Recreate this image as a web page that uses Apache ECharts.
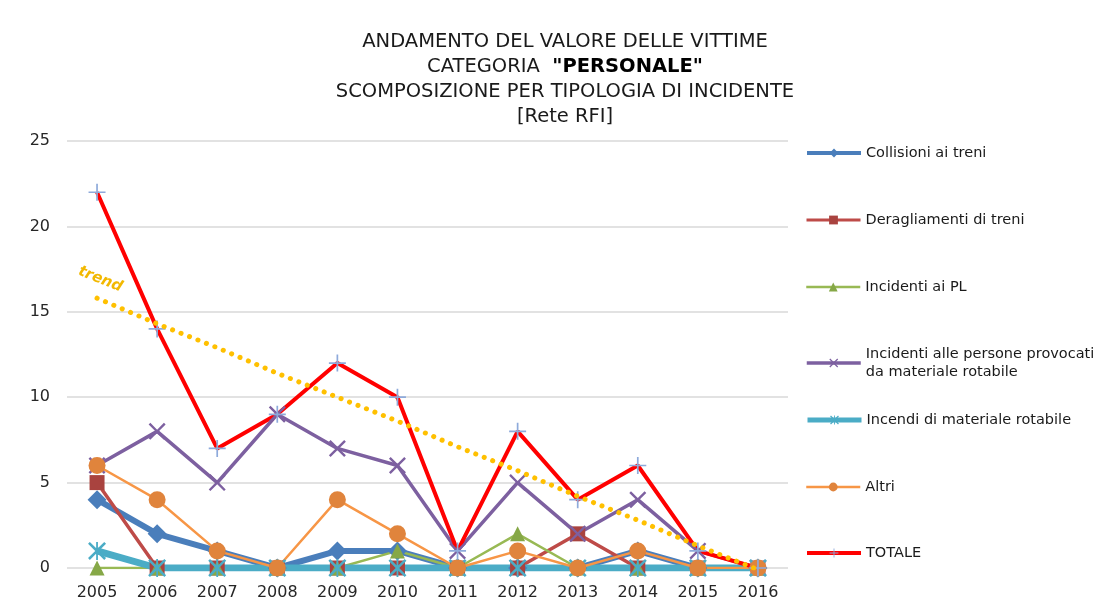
<!DOCTYPE html>
<html>
<head>
<meta charset="utf-8">
<script src="https://cdn.jsdelivr.net/npm/echarts@6/dist/echarts.min.js"></script>
<style>
  html, body { margin: 0; padding: 0; background: #fff; }
  #chart { width: 1114px; height: 610px; }
</style>
</head>
<body>
<div id="chart"></div>
<script>
const years = ["2005", "2006", "2007", "2008", "2009", "2010", "2011", "2012", "2013", "2014", "2015", "2016"];
const collisioni = [4, 2, 1, 0, 1, 1, 0, 0, 0, 1, 0, 0];
const deragliamenti = [5, 0, 0, 0, 0, 0, 0, 0, 2, 0, 0, 0];
const incidentiPL = [0, 0, 0, 0, 0, 1, 0, 2, 0, 0, 0, 0];
const incidentiPersone = [6, 8, 5, 9, 7, 6, 1, 5, 2, 4, 1, 0];
const incendi = [1, 0, 0, 0, 0, 0, 0, 0, 0, 0, 0, 0];
const altri = [6, 4, 1, 0, 4, 2, 0, 1, 0, 1, 0, 0];
const totale = [22, 14, 7, 9, 12, 10, 1, 8, 4, 6, 1, 0];
// trend line
const trend = [15.8, 14.3, 12.9, 11.4, 10.0, 8.6, 7.1, 5.7, 4.2, 2.8, 1.3, -0.1];
const yTicks = [0, 5, 10, 15, 20, 25];

const names = [
  "Collisioni ai treni",
  "Deragliamenti di treni",
  "Incidenti ai PL",
  "Incidenti alle persone provocati\nda materiale rotabile",
  "Incendi di materiale rotabile",
  "Altri",
  "TOTALE",
];

// symbols
const xPath = "path://M0 2L2 0L10 8L18 0L20 2L12 10L20 18L18 20L10 12L2 20L0 18L8 10Z";
const starPath = "path://M0 2L2 0L10 8L18 0L20 2L12 10L20 18L18 20L10 12L2 20L0 18L8 10Z M9 0L11 0L11 20L9 20Z";
const plusPath = "path://M9 0L11 0L11 9L20 9L20 11L11 11L11 20L9 20L9 11L0 11L0 9L9 9Z";

const font = "DejaVu Sans";
const chart = echarts.init(document.getElementById("chart"));

const legendTops = [144, 211, 278, 345, 411, 478, 544];
const legendWidths = [4, 3, 2.5, 3.5, 5, 2.5, 4];
const legends = names.map((n, i) => ({
  data: [n],
  left: 805,
  top: legendTops[i],
  padding: 0,
  itemWidth: 54,
  itemHeight: 11,
  lineStyle: { width: legendWidths[i] },
  textStyle: { fontFamily: font, fontSize: 14.5, color: "#1a1a1a", lineHeight: 18 },
}));

chart.setOption({
  animation: false,
  backgroundColor: "#fff",
  title: {
    left: 560,
    textAlign: "center",
    top: 24,
    text: 'ANDAMENTO DEL VALORE DELLE VITTIME\nCATEGORIA  {b|"PERSONALE"}\nSCOMPOSIZIONE PER TIPOLOGIA DI INCIDENTE\n[Rete RFI]',
    textStyle: {
      fontFamily: font,
      fontSize: 19.5,
      fontWeight: "normal",
      color: "#1a1a1a",
      lineHeight: 25,
      rich: {
        b: { fontFamily: font, fontSize: 19.5, fontWeight: "bold", color: "#000", lineHeight: 25 },
      },
    },
  },
  legend: legends,
  grid: { left: 67, right: 326, top: 141, bottom: 42 },
  xAxis: {
    type: "category",
    data: years,
    boundaryGap: true,
    axisLine: { show: false },
    axisTick: { show: false },
    axisLabel: { fontFamily: font, fontSize: 16, color: "#262626", margin: 17 },
  },
  yAxis: {
    type: "value",
    min: yTicks[0],
    max: yTicks[yTicks.length - 1],
    interval: 5,
    axisLine: { show: false },
    axisTick: { show: false },
    axisLabel: { fontFamily: font, fontSize: 16, color: "#262626", margin: 17 },
    splitLine: { lineStyle: { color: "#d9d9d9", width: 1.5 } },
  },
  series: [
    {
      name: names[0], type: "line", data: collisioni,
      symbol: "diamond", symbolSize: 19,
      lineStyle: { color: "#4a7ebb", width: 6 },
      itemStyle: { color: "#4a7ebb" },
    },
    {
      name: names[1], type: "line", data: deragliamenti,
      symbol: "rect", symbolSize: 15,
      lineStyle: { color: "#be4b48", width: 3.5 },
      itemStyle: { color: "#a9433f" },
    },
    {
      name: names[2], type: "line", data: incidentiPL,
      symbol: "triangle", symbolSize: 15,
      lineStyle: { color: "#98b954", width: 2.5 },
      itemStyle: { color: "#86a847" },
    },
    {
      name: names[3], type: "line", data: incidentiPersone,
      symbol: xPath, symbolSize: 17,
      lineStyle: { color: "#7d60a0", width: 3.5 },
      itemStyle: { color: "#7d60a0" },
    },
    {
      name: names[4], type: "line", data: incendi,
      symbol: starPath, symbolSize: 18,
      lineStyle: { color: "#4bacc6", width: 7 },
      itemStyle: { color: "#4bacc6" },
    },
    {
      name: names[5], type: "line", data: altri,
      symbol: "circle", symbolSize: 17,
      lineStyle: { color: "#f79646", width: 2.5 },
      itemStyle: { color: "#e0843c" },
    },
    {
      name: names[6], type: "line", data: totale,
      symbol: plusPath, symbolSize: 17,
      lineStyle: { color: "#ff0000", width: 4 },
      itemStyle: { color: "#8eaadb" },
    },
    {
      name: "trend", type: "line",
      data: trend,
      symbol: "circle", symbolSize: 1, showSymbol: true,
      itemStyle: { color: "rgba(0,0,0,0)" },
      label: {
        show: true,
        formatter: (p) => (p.dataIndex === 0 ? "trend" : ""),
        position: "top", rotate: -22,
        offset: [-2, -6], color: "#f2b800", fontFamily: font, fontSize: 15,
        fontStyle: "italic", fontWeight: "bold",
      },
      lineStyle: { color: "#ffc000", width: 5, type: [0.1, 9], cap: "round" },
      z: 5,
    },
  ],
});
</script>
</body>
</html>
